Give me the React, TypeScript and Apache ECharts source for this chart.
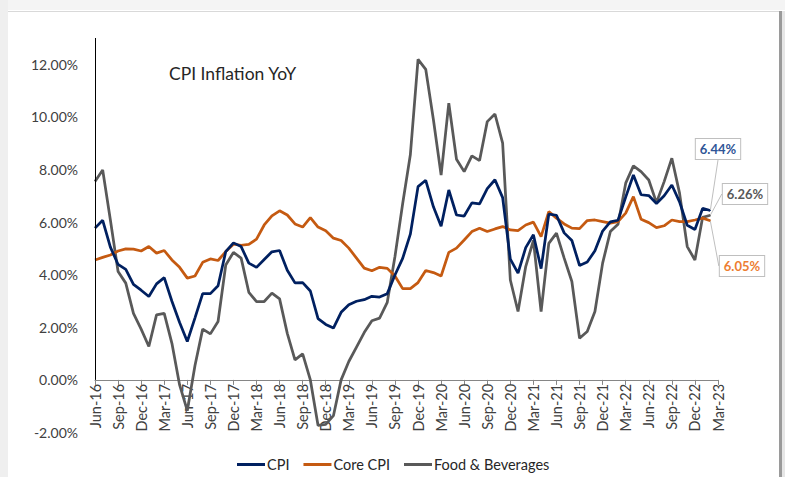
import React, { useEffect, useRef } from "react";
import * as echarts from "echarts";

const months = [
  "Jun-16", "Jul-16", "Aug-16", "Sep-16", "Oct-16", "Nov-16", "Dec-16",
  "Jan-17", "Feb-17", "Mar-17", "Apr-17", "May-17", "Jun-17", "Jul-17", "Aug-17", "Sep-17", "Oct-17", "Nov-17", "Dec-17",
  "Jan-18", "Feb-18", "Mar-18", "Apr-18", "May-18", "Jun-18", "Jul-18", "Aug-18", "Sep-18", "Oct-18", "Nov-18", "Dec-18",
  "Jan-19", "Feb-19", "Mar-19", "Apr-19", "May-19", "Jun-19", "Jul-19", "Aug-19", "Sep-19", "Oct-19", "Nov-19", "Dec-19",
  "Jan-20", "Feb-20", "Mar-20", "Apr-20", "May-20", "Jun-20", "Jul-20", "Aug-20", "Sep-20", "Oct-20", "Nov-20", "Dec-20",
  "Jan-21", "Feb-21", "Mar-21", "Apr-21", "May-21", "Jun-21", "Jul-21", "Aug-21", "Sep-21", "Oct-21", "Nov-21", "Dec-21",
  "Jan-22", "Feb-22", "Mar-22", "Apr-22", "May-22", "Jun-22", "Jul-22", "Aug-22", "Sep-22", "Oct-22", "Nov-22", "Dec-22",
  "Jan-23", "Feb-23", "Mar-23",
];

const cpi = [
  5.77, 6.07, 5.05, 4.39, 4.20, 3.63, 3.41,
  3.17, 3.65, 3.89, 2.99, 2.18, 1.46, 2.36, 3.28, 3.28, 3.58, 4.88, 5.21,
  5.07, 4.44, 4.28, 4.58, 4.87, 4.92, 4.17, 3.69, 3.70, 3.38, 2.33, 2.11,
  1.97, 2.57, 2.86, 2.99, 3.05, 3.18, 3.15, 3.28, 3.99, 4.62, 5.54, 7.35,
  7.59, 6.58, 5.84, 7.22, 6.27, 6.23, 6.73, 6.69, 7.27, 7.61, 6.93, 4.59,
  4.06, 5.03, 5.52, 4.23, 6.30, 6.26, 5.59, 5.30, 4.35, 4.48, 4.91, 5.66,
  6.01, 6.07, 6.95, 7.79, 7.04, 7.01, 6.71, 7.00, 7.41, 6.77, 5.88, 5.72,
  6.52, 6.44,
];

const coreCpi = [
  4.56, 4.66, 4.75, 4.90, 4.98, 4.97, 4.90,
  5.07, 4.82, 4.92, 4.56, 4.28, 3.87, 3.95, 4.47, 4.60, 4.54, 4.88, 5.16,
  5.12, 5.15, 5.35, 5.89, 6.24, 6.43, 6.27, 5.93, 5.81, 6.17, 5.81, 5.67,
  5.39, 5.30, 5.01, 4.63, 4.25, 4.15, 4.28, 4.24, 3.95, 3.47, 3.47, 3.70,
  4.16, 4.08, 3.95, 4.85, 5.01, 5.32, 5.64, 5.77, 5.64, 5.74, 5.83, 5.70,
  5.68, 5.89, 6.00, 5.45, 6.40, 6.15, 5.93, 5.77, 5.75, 6.06, 6.08, 6.02,
  5.96, 6.02, 6.34, 6.97, 6.11, 5.98, 5.79, 5.86, 6.08, 6.02, 6.02, 6.08,
  6.15, 6.05,
];

const foodBev = [
  7.54, 7.98, 6.08, 4.12, 3.68, 2.53, 1.93,
  1.27, 2.47, 2.53, 1.39, -0.19, -1.17, 0.55, 1.93, 1.75, 2.22, 4.37, 4.85,
  4.63, 3.33, 2.98, 2.98, 3.30, 3.08, 1.77, 0.76, 0.99, 0.0, -1.73, -1.69,
  -1.36, 0.0, 0.70, 1.25, 1.80, 2.25, 2.35, 2.95, 4.69, 6.70, 8.56, 12.19,
  11.81, 9.89, 7.79, 10.52, 8.39, 7.92, 8.52, 8.34, 9.82, 10.11, 9.00, 3.80,
  2.60, 4.31, 5.30, 2.60, 5.19, 5.58, 4.63, 3.74, 1.58, 1.84, 2.60, 4.44,
  5.64, 5.92, 7.48, 8.14, 7.92, 7.60, 6.74, 7.54, 8.43, 7.10, 5.07, 4.56,
  6.18, 6.26,
];

const seriesNames = ["CPI", "Core CPI", "Food & Beverages"];
const lineColors = ["#002060", "#C55A11", "#595959"];
const labelColors = ["#2F5597", "#ED7D31", "#595959"];
const labelPos = [
  [718, 149],
  [742, 266],
  [745, 194],
];

const FONT = "Lato, 'Noto Sans', sans-serif";

function buildData(values: number[], idx: number) {
  const out: any[] = values.map((v) => v);
  const last = out.length - 1;
  out[last] = {
    value: values[last],
    symbol: "circle",
    symbolSize: 1,
    label: {
      show: true,
      formatter: (p: any) => p.value.toFixed(2) + "%",
      color: labelColors[idx],
      fontWeight: "bold",
      fontSize: 13,
      fontFamily: FONT,
      backgroundColor: "#ffffff",
      borderColor: "#bfbfbf",
      borderWidth: 1,
      padding: [4, 4, 3, 4],
    },
  };
  out.push(null);
  return out;
}

export default function App() {
  const ref = useRef<HTMLDivElement>(null);
  useEffect(() => {
    document.body.style.margin = "0";
    if (!ref.current) return;
    const chart = echarts.init(ref.current, undefined, { renderer: "svg" });
    const allValues = [cpi, coreCpi, foodBev];
    const series: any[] = allValues.map((vals, i) => ({
      name: seriesNames[i],
      type: "line",
      data: buildData(vals, i),
      symbol: "none",
      showAllSymbol: true,
      lineStyle: { color: lineColors[i], width: 2.75 },
      itemStyle: { color: lineColors[i] },
      emphasis: { disabled: true },
      labelLayout: {
        x: labelPos[i][0],
        y: labelPos[i][1],
        align: "center",
        verticalAlign: "middle",
      },
      labelLine: {
        show: true,
        lineStyle: { color: "#bfbfbf", width: 1 },
      },
      z: 3 - i,
      ...(i === 0
        ? {
            markLine: {
              silent: true,
              symbol: "none",
              label: { show: false },
              lineStyle: { color: "#000000", width: 1, type: "solid" },
              emphasis: { disabled: true },
              data: [[{ coord: [months[0], 0] }, { coord: [months[0], 13] }]],
            },
          }
        : {}),
    }));

    chart.setOption({
      animation: false,
      backgroundColor: "#ffffff",
      textStyle: { fontFamily: FONT },
      title: {
        text: "CPI Inflation YoY",
        left: 164,
        top: 59,
        textStyle: { fontSize: 17.5, fontWeight: "normal", color: "#262626", fontFamily: FONT },
      },
      legend: {
        data: seriesNames,
        left: 232,
        top: 452,
        icon: "rect",
        itemWidth: 28,
        itemHeight: 3,
        itemGap: 14,
        textStyle: { fontSize: 14.5, color: "#262626", fontFamily: FONT, padding: [0, 0, 0, -3] },
      },
      grid: { left: 95, right: 67, top: 38, bottom: 44.5 },
      xAxis: {
        type: "category",
        data: months,
        boundaryGap: false,
        offset: -52.6,
        axisLine: { onZero: false, lineStyle: { color: "#868686", width: 1 } },
        axisTick: { show: true, interval: 2, length: 5, lineStyle: { color: "#868686" } },
        axisLabel: {
          interval: 2,
          rotate: 90,
          margin: 4,
          fontSize: 14.5,
          color: "#404040",
          fontFamily: FONT,
        },
        splitLine: { show: false },
      },
      yAxis: {
        type: "value",
        min: -2,
        max: 13,
        interval: 2,
        axisLine: { show: false },
        axisTick: { show: false },
        splitLine: { show: false },
        axisLabel: {
          showMaxLabel: false,
          margin: 17,
          fontSize: 14,
          color: "#404040",
          fontFamily: FONT,
          formatter: (v: number) => v.toFixed(2) + "%",
        },
      },
      graphic: [
        { type: "rect", left: 0, top: 0, shape: { width: 785, height: 10 }, style: { fill: "#f4f4f4" }, z: -10, silent: true },
        { type: "rect", left: 0, top: 0, shape: { width: 8, height: 477 }, style: { fill: "#efefef" }, z: -10, silent: true },
        { type: "line", shape: { x1: 8, y1: 11.5, x2: 780, y2: 11.5 }, style: { stroke: "#d9d9d9", lineWidth: 1 }, z: -9, silent: true },
        { type: "rect", left: 779, top: 11, shape: { width: 3, height: 466 }, style: { fill: "#9a9a9a" }, z: -9, silent: true },
        { type: "rect", left: 782, top: 11, shape: { width: 3, height: 466 }, style: { fill: "#e6e6e6" }, z: -9, silent: true },
      ],
      series,
    });
    return () => chart.dispose();
  }, []);
  return <div ref={ref} style={{ width: 785, height: 477 }} />;
}
